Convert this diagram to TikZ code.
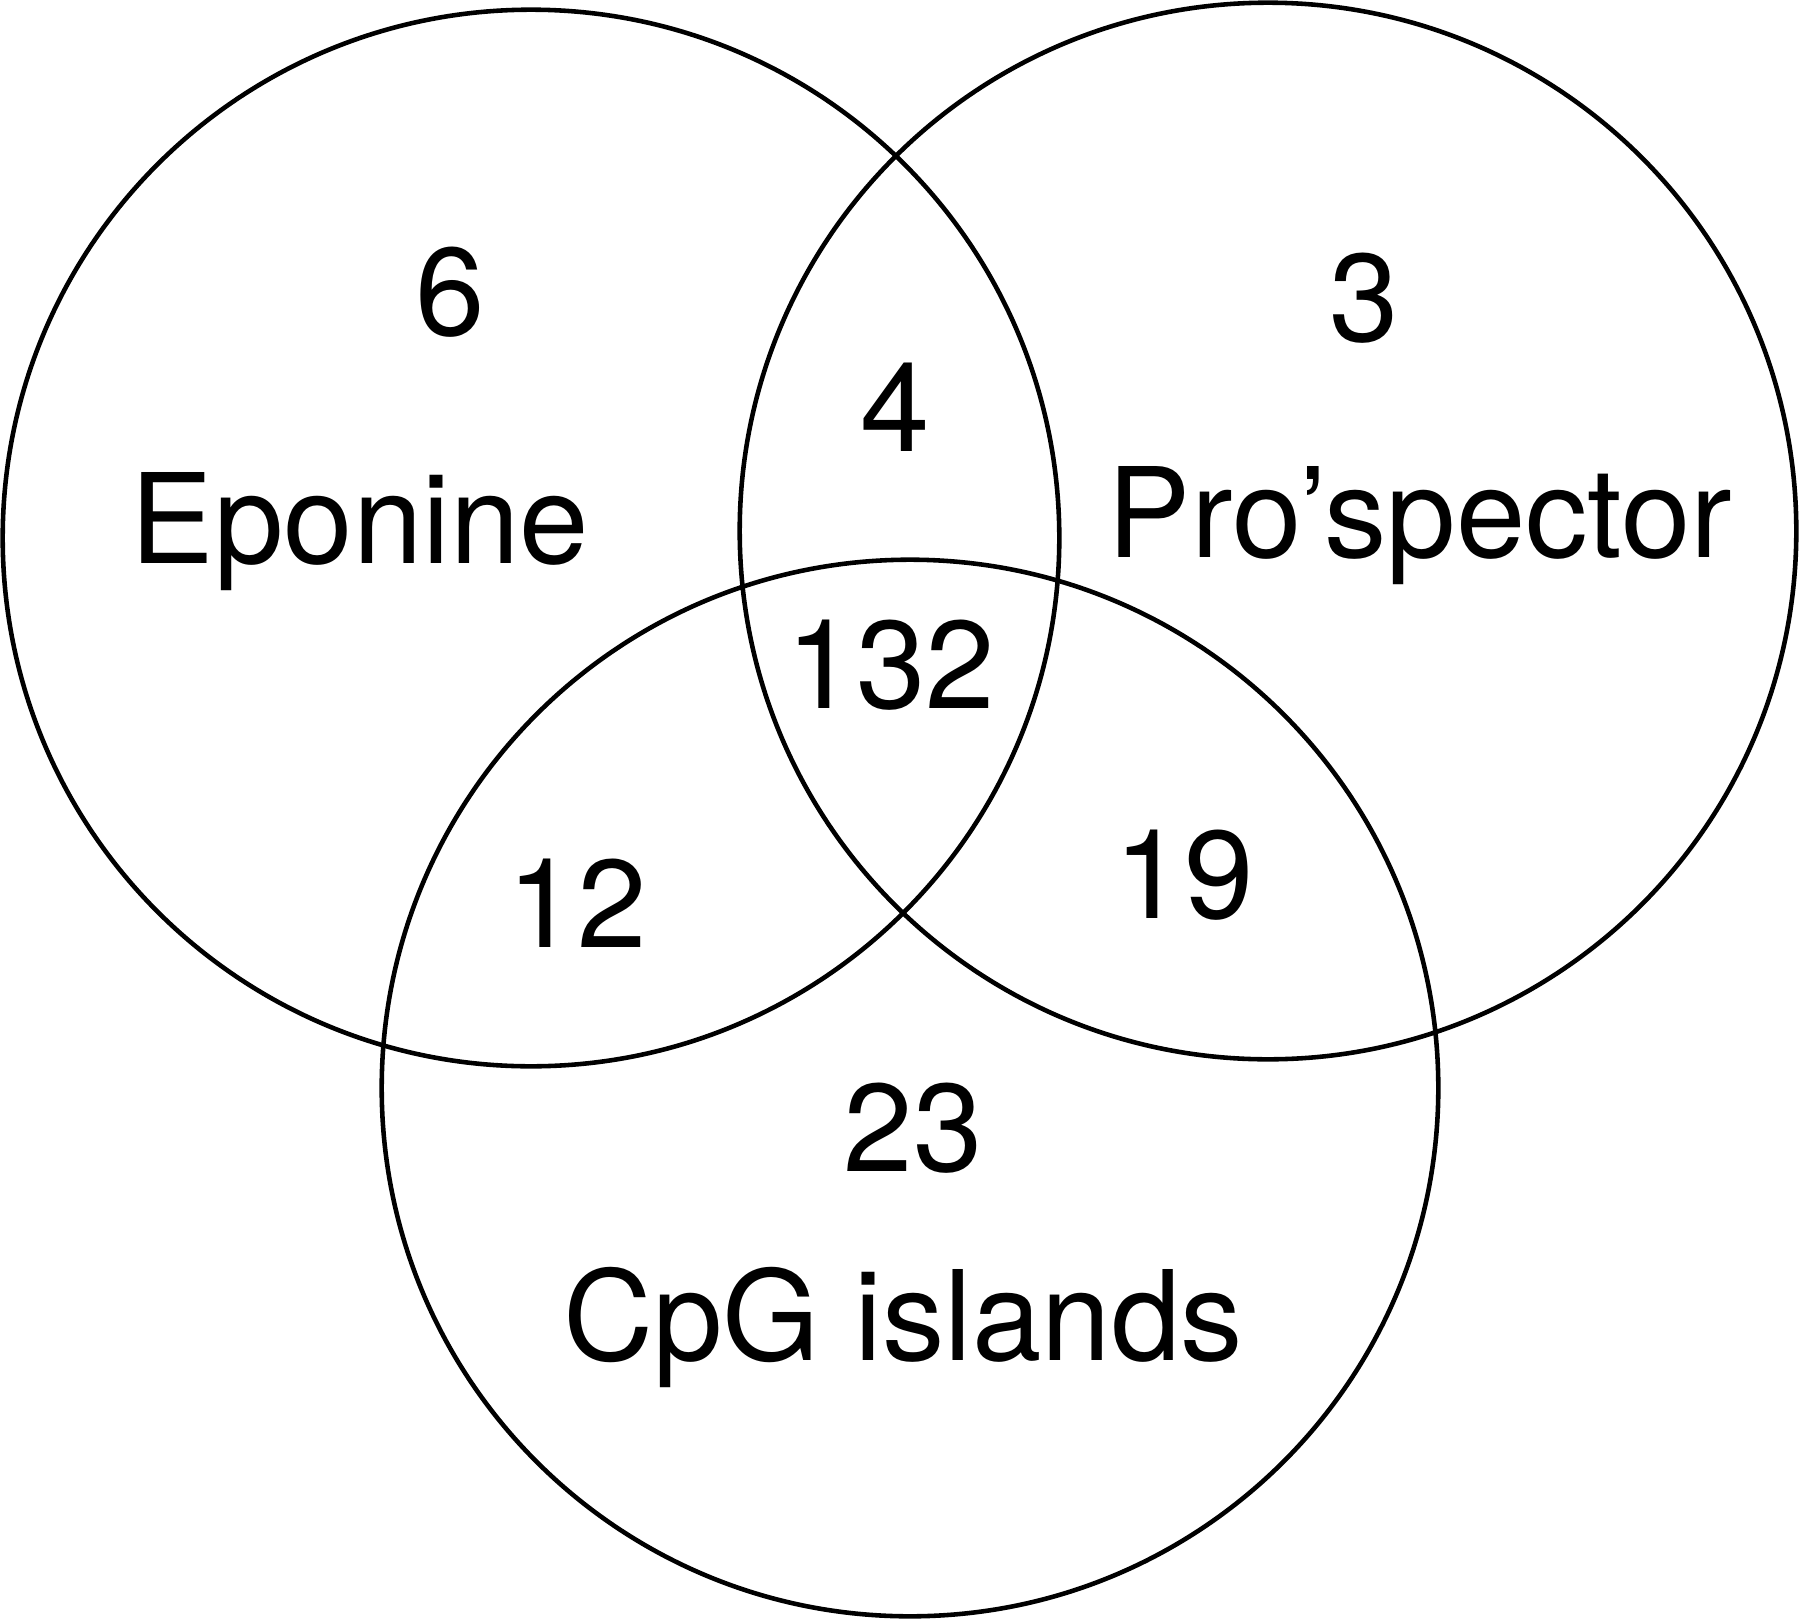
\documentclass[tikz,border=0pt]{standalone}
\usepackage{fontspec}
\setmainfont{TeX Gyre Heros}
\usepackage{tikz}
\usetikzlibrary{positioning}
\tikzset{
  setcirc/.style={circle,draw=black,line width=1.3pt,inner sep=0pt,minimum size=10.56cm},
  vlabel/.style={anchor=base,inner sep=0pt,font=\fontsize{35.5pt}{41pt}\selectfont}
}

\begin{document}
\begin{tikzpicture}[x=0.01cm,y=-0.01cm]
  \useasboundingbox (0,0) rectangle (1800,1621);
  % the three sets
  \node[setcirc] (eponine) at (531,538) {};
  \node[setcirc] (prospector) at (1268,531) {};
  \node[setcirc] (cpg) at (910,1088) {};
  % set names
  \node[vlabel] (eponinename) at (360,563) {Eponine};
  \node[vlabel] (prospectorname) at (1420,557) {Pro’spector};
  \node[vlabel] (cpgname) at (903,1360) {CpG islands};
  % counts per region
  \foreach \name/\x/\y/\n in {onlyep/450/335/6, onlypro/1364/341/3, eppro/895/451/4,
      all/891/708/132, epcpg/577/947/12, procpg/1184/918/19, onlycpg/913/1171/23}{
    \node[vlabel] (\name) at (\x,\y) {\n};
  }
\end{tikzpicture}
\end{document}
